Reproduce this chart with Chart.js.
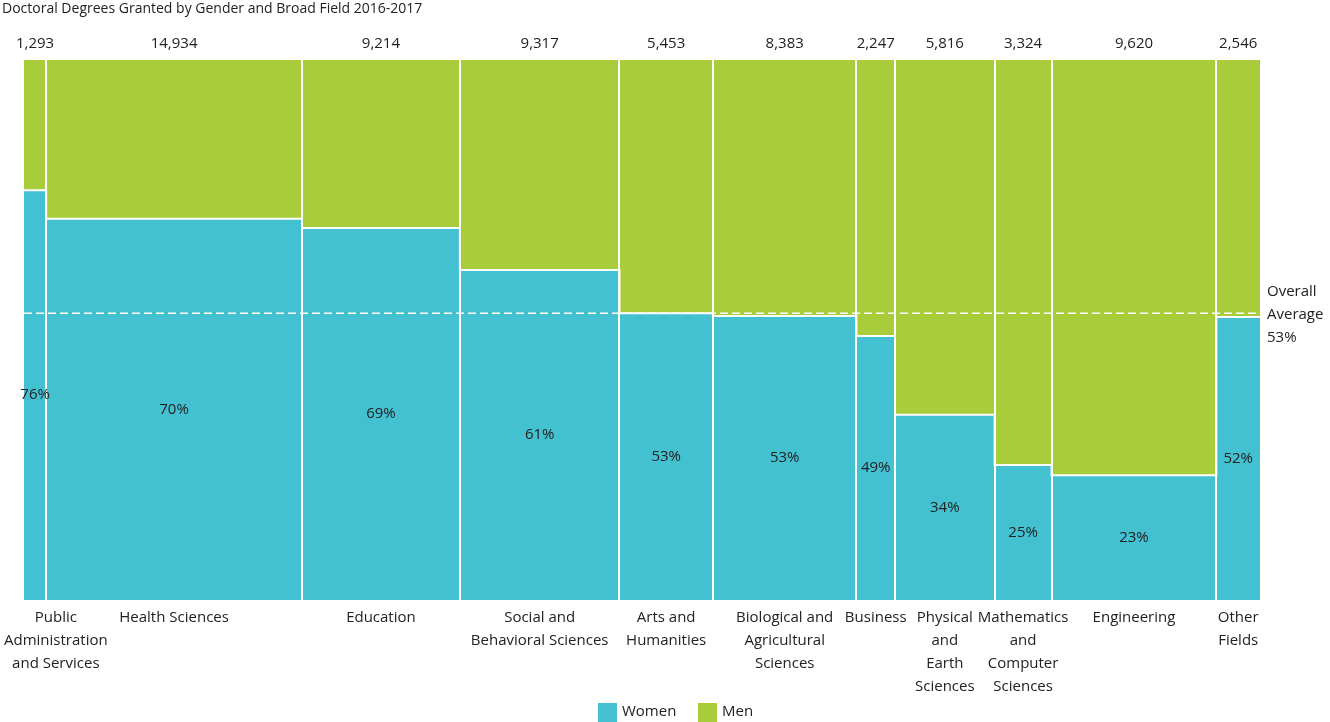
<!DOCTYPE html>
<html><head><meta charset="utf-8">
<script src="https://cdn.jsdelivr.net/npm/chart.js@4"></script>
<style>body{margin:0;background:#fff}#w{width:1330px;height:722px}</style>
</head><body><div id="w"><canvas id="c"></canvas></div>
<script>
const categories = [["Public","Administration","and Services"],["Health Sciences"],["Education"],["Social and","Behavioral Sciences"],["Arts and","Humanities"],["Biological and","Agricultural","Sciences"],["Business"],["Physical","and","Earth","Sciences"],["Mathematics","and","Computer","Sciences"],["Engineering"],["Other","Fields"]];
const totals = [1293,14934,9214,9317,5453,8383,2247,5816,3324,9620,2546];
const womenPct = [75.9,70.6,68.9,61.1,53.1,52.6,48.9,34.3,25.0,23.1,52.4];
const pctLabels = ["76%","70%","69%","61%","53%","53%","49%","34%","25%","23%","52%"];
const overallAvg = 53.1;

const TEAL="#43c1d1", GREEN="#a8cc3a", FONT="'Open Sans', sans-serif";
const starts=[]; let s=0; totals.forEach(t=>{starts.push(s); s+=t;}); const grand=s;
const stepData = starts.map((x,i)=>({x:x,y:womenPct[i]})); stepData.push({x:grand,y:womenPct[womenPct.length-1]});

const deco = {id:'deco', afterDatasetsDraw(ch){
  const ctx=ch.ctx, X=ch.scales.x, Y=ch.scales.y, ca=ch.chartArea;
  ctx.save();
  ctx.strokeStyle='#fff'; ctx.lineWidth=2;
  starts.slice(1).forEach(x=>{const px=Math.round(X.getPixelForValue(x)); ctx.beginPath(); ctx.moveTo(px,ca.top); ctx.lineTo(px,ca.bottom); ctx.stroke();});
  // average dashed line
  ctx.setLineDash([8,4]); ctx.lineWidth=1.5;
  const ay=Y.getPixelForValue(overallAvg);
  ctx.beginPath(); ctx.moveTo(ca.left,ay); ctx.lineTo(ca.right,ay); ctx.stroke();
  ctx.setLineDash([]);
  ctx.fillStyle='#222'; ctx.font='15px '+FONT; ctx.textBaseline='middle';
  ctx.textAlign='left';
  ["Overall","Average","53%"].forEach((t,i)=>ctx.fillText(t,ca.right+7,ay-22+i*23));
  ctx.textAlign='center';
  totals.forEach((t,i)=>{
    const x0=X.getPixelForValue(starts[i]), x1=X.getPixelForValue(starts[i]+t), cx=(x0+x1)/2;
    ctx.fillText(t.toLocaleString('en-US'),cx,44);
    const wy=Y.getPixelForValue(womenPct[i]);
    ctx.fillText(pctLabels[i],cx,(wy+ca.bottom)/2);
    let maxw=0; categories[i].forEach(l=>maxw=Math.max(maxw,ctx.measureText(l).width));
    const lx=Math.max(cx,maxw/2+4);
    categories[i].forEach((l,j)=>ctx.fillText(l,lx,618+j*23));
  });
  ctx.textAlign='left'; ctx.font='14px '+FONT;
  ctx.fillText("Doctoral Degrees Granted by Gender and Broad Field 2016-2017",2,9);
  ctx.font='15px '+FONT;
  ctx.fillStyle=TEAL; ctx.fillRect(598,703,19,19);
  ctx.fillStyle='#222'; ctx.fillText("Women",622,712);
  ctx.fillStyle=GREEN; ctx.fillRect(698,703,19,19);
  ctx.fillStyle='#222'; ctx.fillText("Men",722,712);
  ctx.restore();
}};

new Chart(document.getElementById('c'),{
  type:'line',
  data:{datasets:[
    {label:'Women',data:stepData,stepped:true,fill:'origin',backgroundColor:TEAL,borderColor:'#fff',borderWidth:2,pointRadius:0},
    {label:'Men',data:stepData,stepped:true,fill:'end',backgroundColor:GREEN,borderColor:'rgba(0,0,0,0)',borderWidth:0,pointRadius:0}
  ]},
  options:{responsive:true,maintainAspectRatio:false,animation:false,
    layout:{padding:{left:24,right:70,top:60,bottom:122}},
    scales:{x:{type:'linear',min:0,max:grand,display:false},y:{min:0,max:100,display:false}},
    plugins:{legend:{display:false},tooltip:{enabled:false}}},
  plugins:[deco]
});
</script></body></html>
